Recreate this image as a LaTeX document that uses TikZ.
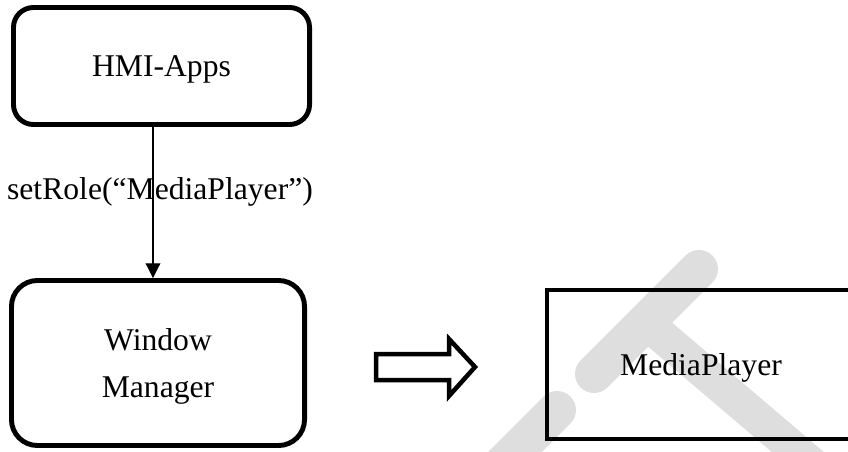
\documentclass[tikz,border=0pt]{standalone}
\usepackage{fontspec}
\setmainfont{Liberation Serif}
\usetikzlibrary{arrows.meta}

\begin{document}
\begin{tikzpicture}[x=0.025cm, y=-0.025cm,
    every node/.style={font=\fontsize{22.5}{34}\selectfont},
    box/.style={draw, rounded corners=0.65cm, line width=3.5pt, inner sep=0pt, text depth=0pt, align=center},
    wmark/.style={line width=27pt, line cap=round, color=black!13}]
        \useasboundingbox (0,0) rectangle (848,452);
        \clip (0,0) rectangle (848,452);

        % watermark in the background
        \path[draw,wmark] (699,269) -- (594,374);
        \path[draw,wmark] (557,410) -- (467,500);
        \path[draw,wmark,line width=24pt] (657,332) -- (860,505);

        \node[box, rounded corners=0.5cm, minimum width=7.4cm, minimum height=2.925cm] (hmi) at (161.5,66) {HMI-Apps};
        \node[box, minimum width=7.325cm, minimum height=4.125cm] (wm) at (158,363) {Window\\Manager};
        \node[draw, line width=2.9pt, inner sep=0pt, text depth=0pt, minimum width=7.7cm, minimum height=3.725cm] (mp) at (701,364.5) {MediaPlayer};

        \coordinate (from) at ([xshift=-0.2125cm]hmi.south);
        \coordinate (to) at (from |- wm.north);
        \path[draw, line width=0.8pt, -{Triangle[length=10.5pt,width=10.5pt]}] (from) -- (to);
        \node[anchor=base] (role) at (160,200) {setRole(“MediaPlayer”)};

        % hollow arrow between the boxes
        \path[draw, line width=3.2pt, line join=miter] (376,354) -- (449,354) -- (449,339) -- (475,367)
            -- (449,396) -- (449,380) -- (376,380) -- cycle;
    \end{tikzpicture}
\end{document}
